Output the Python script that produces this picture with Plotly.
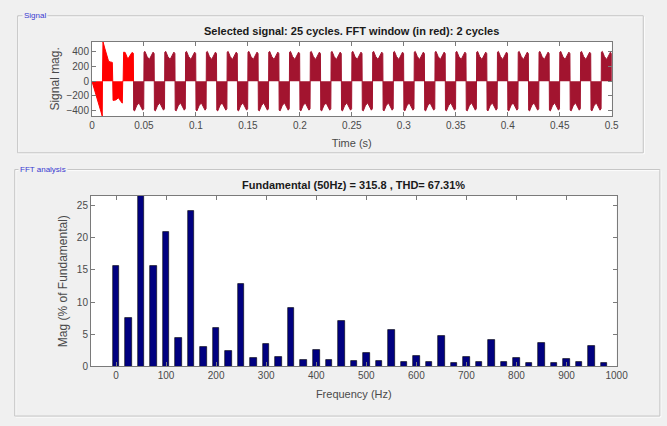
import numpy as np
import plotly.graph_objects as go

W, H = 667, 426

# ---------------- signal (time domain) ----------------
f0 = 50.0                 # fundamental frequency, Hz
n_cycles = 25
fft_cycles = 2

# magnitude envelope of one steady-state half cycle (fraction of half period -> volts)
half_phase = [0.00, 0.01, 0.10, 0.30, 0.52, 0.72, 0.88, 0.98, 1.00]
half_mag = [0, 395, 405, 335, 295, 340, 395, 375, 0]

# start-up portion covered by the FFT window (first two cycles)
win_t = [0.0, 0.0094, 0.0099, 0.0101, 0.0106, 0.0125, 0.0145, 0.0160, 0.0175, 0.0196,
         0.0200, 0.0203, 0.0230, 0.0255, 0.0265, 0.0280, 0.0292, 0.0296,
         0.0300, 0.0305, 0.0320, 0.0345, 0.0365, 0.0385, 0.0398, 0.0400]
win_v = [0, -475, -475, 0, 537, 440, 330, 270, 262, 255,
         0, -262, -255, -225, -250, -285, -300, 0,
         0, 395, 390, 300, 340, 390, 380, 0]

# ---------------- FFT analysis ----------------
freq = [0, 25, 50, 75, 100, 125, 150, 175, 200, 225, 250, 275, 300, 325, 350, 375, 400,
        425, 450, 475, 500, 525, 550, 575, 600, 625, 650, 675, 700, 725, 750, 775, 800,
        825, 850, 875, 900, 925, 950, 975]
mag_pct = [15.7, 7.6, 100.0, 15.7, 20.95, 4.5, 24.1, 3.0, 6.0, 2.35, 12.85, 1.33, 3.5, 1.43,
           9.1, 1.08, 2.6, 1.08, 7.07, 0.82, 2.05, 0.82, 5.7, 0.67, 1.7, 0.67, 4.76, 0.51,
           1.54, 0.67, 4.15, 0.67, 1.28, 0.51, 3.6, 0.51, 1.18, 0.67, 3.23, 0.51]

sig_title = "Selected signal: 25 cycles. FFT window (in red): 2 cycles"
fft_title = "Fundamental (50Hz) = 315.8 , THD= 67.31%"

# build the steady-state waveform: each cycle is a negative half then a positive half
T = 1.0 / f0
ss_t, ss_v = [], []
for k in range(fft_cycles, n_cycles):
    for half, sign in ((0, -1), (1, 1)):
        t0 = k * T + half * T / 2
        for p, m in zip(half_phase, half_mag):
            ss_t.append(t0 + p * T / 2)
            ss_v.append(sign * m)


def px(x):
    return x / W


def py(y):
    return 1 - y / H


FONT = "Liberation Sans"
TXT = "#4a4a4a"

fig = go.Figure()

fig.add_trace(go.Scatter(x=ss_t, y=ss_v, mode="lines", fill="tozeroy",
                         line=dict(color="#a2142f", width=1), fillcolor="#a2142f",
                         xaxis="x", yaxis="y", hoverinfo="skip", showlegend=False))
fig.add_trace(go.Scatter(x=win_t, y=win_v, mode="lines", fill="tozeroy",
                         line=dict(color="#ff0000", width=1), fillcolor="#ff0000",
                         xaxis="x", yaxis="y", hoverinfo="skip", showlegend=False))

fig.add_trace(go.Bar(x=freq, y=mag_pct, width=13,
                     marker=dict(color="#000080", line=dict(color="#000000", width=0.6)),
                     xaxis="x2", yaxis="y2", showlegend=False))

axis_common = dict(showline=True, linecolor="#7a7a7a", linewidth=1, mirror="ticks",
                   ticks="inside", ticklen=4, tickcolor="#7a7a7a", showgrid=False,
                   zeroline=False, tickfont=dict(family=FONT, size=10, color=TXT))

fig.update_layout(
    width=W, height=H,
    margin=dict(l=0, r=0, t=0, b=0),
    paper_bgcolor="#f0f0f0", plot_bgcolor="#ffffff",
    bargap=0,
    xaxis=dict(domain=[px(91), px(622.7)], anchor="y", range=[0, 0.5],
               tickvals=[0, 0.05, 0.1, 0.15, 0.2, 0.25, 0.3, 0.35, 0.4, 0.45, 0.5],
               ticktext=["0", "0.05", "0.1", "0.15", "0.2", "0.25", "0.3", "0.35",
                         "0.4", "0.45", "0.5"],
               title=dict(text="Time (s)", font=dict(family=FONT, size=11, color=TXT),
                          standoff=9),
               **axis_common),
    yaxis=dict(domain=[py(117.7), py(42.3)], anchor="x", range=[-475, 537],
               tickvals=[-400, -200, 0, 200, 400],
               title=dict(text="Signal mag.", font=dict(family=FONT, size=12, color=TXT),
                          standoff=4),
               **axis_common),
    xaxis2=dict(domain=[px(90), px(627.7)], anchor="y2", range=[-50, 1000],
                tickvals=list(range(0, 1001, 100)),
                title=dict(text="Frequency (Hz)", font=dict(family=FONT, size=11, color=TXT),
                           standoff=9),
                **axis_common),
    yaxis2=dict(domain=[py(371.7), py(198.7)], anchor="x2", range=[0, 26.5],
                tickvals=[0, 5, 10, 15, 20, 25],
                title=dict(text="Mag (% of Fundamental)",
                           font=dict(family=FONT, size=12, color=TXT), standoff=6),
                **axis_common),
)

# etched panel frames
shapes = []
for (x0, y0, x1, y1) in [(15, 16, 655, 155), (12, 172, 672, 422)]:
    shapes.append(dict(type="rect", xref="paper", yref="paper",
                       x0=px(x0 + 1), x1=px(x1 + 1), y0=py(y0 + 1), y1=py(y1 + 1),
                       line=dict(color="#ffffff", width=1), fillcolor="rgba(0,0,0,0)",
                       layer="below"))
    shapes.append(dict(type="rect", xref="paper", yref="paper",
                       x0=px(x0), x1=px(x1), y0=py(y0), y1=py(y1),
                       line=dict(color="#c4c4c4", width=1), fillcolor="rgba(0,0,0,0)",
                       layer="below"))
fig.update_layout(shapes=shapes)

annotations = [
    dict(text="Signal", x=px(19), y=py(16), xanchor="left", yanchor="middle",
         bgcolor="#f0f0f0", borderpad=1,
         font=dict(family=FONT, size=8, color="#3a3ad0")),
    dict(text="FFT analysis", x=px(15), y=py(172), xanchor="left", yanchor="middle",
         bgcolor="#f0f0f0", borderpad=1,
         font=dict(family=FONT, size=8, color="#3a3ad0")),
    dict(text="<b>" + sig_title + "</b>", x=px(357), y=py(31), xanchor="center",
         yanchor="middle", font=dict(family=FONT, size=11, color="#1a1a1a")),
    dict(text="<b>" + fft_title + "</b>", x=px(359), y=py(188), xanchor="center",
         yanchor="middle", font=dict(family=FONT, size=11, color="#1a1a1a")),
]
for a in annotations:
    a.update(xref="paper", yref="paper", showarrow=False)
fig.update_layout(annotations=annotations)

fig.write_html("out.html")
